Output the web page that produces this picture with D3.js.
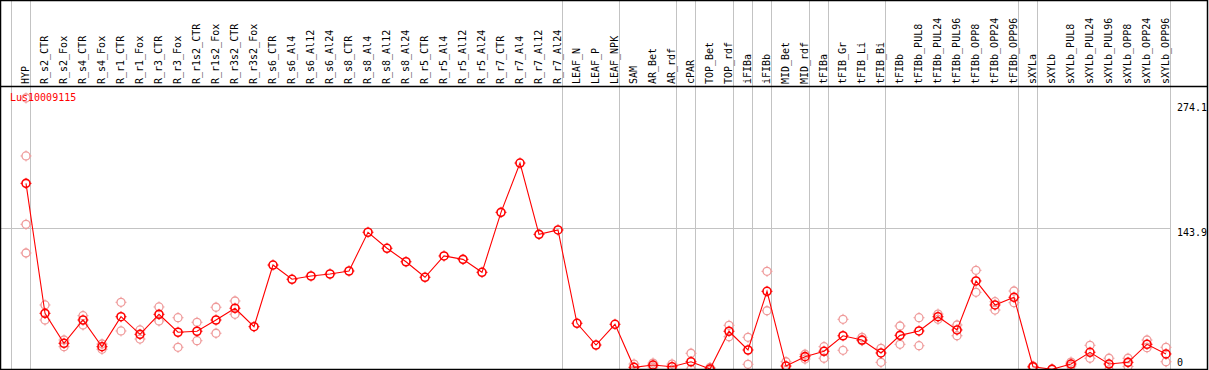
<!DOCTYPE html>
<html><head><meta charset="utf-8">
<script src="https://cdn.jsdelivr.net/npm/d3@7"></script>
<style>
html,body{margin:0;padding:0;background:#fff;}
svg{display:block;}
text{font-family:"DejaVu Sans Mono","Liberation Mono",monospace;font-size:10px;}
</style></head>
<body><svg id="chart" width="1209" height="370"></svg>
<script>
const categories = ["HYP","R_s2_CTR","R_s2_Fox","R_s4_CTR","R_s4_Fox","R_r1_CTR","R_r1_Fox","R_r3_CTR","R_r3_Fox","R_r1s2_CTR","R_r1s2_Fox","R_r3s2_CTR","R_r3s2_Fox","R_s6_CTR","R_s6_Al4","R_s6_Al12","R_s6_Al24","R_s8_CTR","R_s8_Al4","R_s8_Al12","R_s8_Al24","R_r5_CTR","R_r5_Al4","R_r5_Al12","R_r5_Al24","R_r7_CTR","R_r7_Al4","R_r7_Al12","R_r7_Al24","LEAF_N","LEAF_P","LEAF_NPK","SAM","AR_Bet","AR_rdf","cPAR","TOP_Bet","TOP_rdf","iFIBa","iFIBb","MID_Bet","MID_rdf","tFIBa","tFIB_Gr","tFIB_Li","tFIB_Bi","tFIBb","tFIBb_PUL8","tFIBb_PUL24","tFIBb_PUL96","tFIBb_OPP8","tFIBb_OPP24","tFIBb_OPP96","sXYLa","sXYLb","sXYLb_PUL8","sXYLb_PUL24","sXYLb_PUL96","sXYLb_OPP8","sXYLb_OPP24","sXYLb_OPP96"];

const meanValues = [188.4,57.9,27.8,51.2,24.4,54.5,36.8,56.9,38.9,39.9,51.2,63.0,44.5,106.4,92.1,95.4,97.4,100.4,139.3,123.2,109.7,94.1,115.5,112.1,99.1,159.3,208.8,137.2,141.6,47.9,26.1,46.9,3.7,6.0,4.3,9.3,2.0,39.9,21.1,80.0,5.0,14.4,19.8,35.4,31.1,18.1,35.8,40.2,54.5,41.2,90.4,66.3,74.0,4.3,1.7,7.0,18.8,7.0,8.7,26.8,17.1];

const repA = [274.1,66.3,31.1,55.5,27.1,69.0,41.2,64.3,53.5,48.9,64.0,70.3,null,null,null,null,null,null,null,null,null,null,null,null,null,null,null,null,null,null,null,null,7.0,8.0,7.0,17.8,3.5,45.9,33.8,100.1,9.3,16.8,24.4,51.9,33.8,22.8,45.2,53.5,57.2,46.2,101.1,69.6,80.3,5.0,2.0,9.0,25.8,12.8,12.8,31.1,23.8];
const repB = [215.9,51.2,24.4,46.2,21.8,40.2,32.1,50.2,23.8,30.4,37.9,56.9,null,null,null,null,null,null,null,null,null,null,null,null,null,null,null,null,null,null,null,null,0.5,4.0,1.6,1.7,0.5,34.4,6.7,60.5,0.7,12.0,12.8,20.8,30.4,8.7,26.8,25.4,51.9,35.4,79.0,61.2,68.6,3.6,1.4,5.0,12.8,1.2,4.6,23.4,9.3];
const repC = [147.3];
const repD = [118.5];

const yTicks = [0, 143.9, 274.1];
const title = "Lus10009115";
// indices of categories after which a separator line is drawn (-1 = before first)
const separatorsAfter = [-1,0,28,31,34,35,37,38,39,41,42,45,52,53,60];

const W = 1209, H = 370;
const svg = d3.select("#chart");
const headerBottom = 86, plotBottom = 369, rightEdge = 1207;

const x = d3.scalePoint().domain(categories).range([26, 26 + 19 * (categories.length - 1)]);
const y = d3.scaleLinear().domain([0, 274.1]).range([371, 98]);

// background
svg.append("rect").attr("x",0).attr("y",0).attr("width",W).attr("height",H).attr("fill","#fff");

// separators (full height)
svg.append("g").selectAll("line").data(separatorsAfter).join("line")
  .attr("x1", i => Math.round(26 + 19 * i + 4) + 0.5)
  .attr("x2", i => Math.round(26 + 19 * i + 4) + 0.5)
  .attr("y1", 0).attr("y2", plotBottom)
  .attr("stroke", "#c3c3c3").attr("stroke-width", 1);

// horizontal grid at middle tick
const sepLast = Math.round(26 + 19 * 60 + 4) + 0.5;
svg.append("line")
  .attr("x1", 1).attr("x2", sepLast)
  .attr("y1", Math.round(y(143.9)) + 0.5).attr("y2", Math.round(y(143.9)) + 0.5)
  .attr("stroke", "#c3c3c3").attr("stroke-width", 1);

// category labels
svg.append("g").selectAll("text").data(categories).join("text")
  .attr("transform", d => `translate(${x(d) + 3},84) rotate(-90)`)
  .attr("text-anchor", "start")
  .attr("fill", "#000")
  .text(d => d);

// y tick labels
svg.append("g").selectAll("text").data(yTicks).join("text")
  .attr("x", 1177)
  .attr("y", d => Math.min(Math.max(y(d) + 8, 111), 366))
  .attr("fill", "#000")
  .text(d => d === 0 ? "0" : d3.format(".1f")(d));

// clip for plot
svg.append("clipPath").attr("id","plotclip").append("rect")
  .attr("x", 1).attr("y", headerBottom + 1).attr("width", rightEdge - 1).attr("height", plotBottom - headerBottom - 1);
const plot = svg.append("g").attr("clip-path","url(#plotclip)");

function marker(g, cx, cy, color, sw) {
  const m = g.append("g").attr("transform", `translate(${cx},${cy})`);
  m.append("circle").attr("r", 4).attr("fill", "none").attr("stroke", color).attr("stroke-width", sw);
  [[0,-4,0,-5.5],[0,4,0,5.5],[-4,0,-5.5,0],[4,0,5.5,0]].forEach(s => {
    m.append("line").attr("x1", s[0]).attr("y1", s[1]).attr("x2", s[2]).attr("y2", s[3])
      .attr("stroke", color).attr("stroke-width", 1);
  });
}

// replicates
const repColor = "#ef9a9a";
[repA, repB, repC, repD].forEach(arr => {
  arr.forEach((v, i) => {
    if (v === null || v === undefined) return;
    marker(plot, x(categories[i]), y(v), repColor, 1.3);
  });
});

// mean line
const line = d3.line().x((d, i) => x(categories[i])).y(d => y(d));
plot.append("path").datum(meanValues).attr("d", line)
  .attr("fill", "none").attr("stroke", "#ff0000").attr("stroke-width", 1.1);

// mean markers
meanValues.forEach((v, i) => marker(plot, x(categories[i]), y(v), "#ff0000", 1.6));

// title
svg.append("text").attr("x", 10).attr("y", 100.5).attr("fill", "#ff0000").text(title);

// frame
svg.append("rect").attr("x", 0.5).attr("y", 0.5).attr("width", rightEdge).attr("height", plotBottom)
  .attr("fill", "none").attr("stroke", "#000").attr("stroke-width", 1.5);
svg.append("line").attr("x1", 0).attr("x2", rightEdge + 1).attr("y1", headerBottom + 0.5).attr("y2", headerBottom + 0.5)
  .attr("stroke", "#000").attr("stroke-width", 1.5);
</script></body></html>
